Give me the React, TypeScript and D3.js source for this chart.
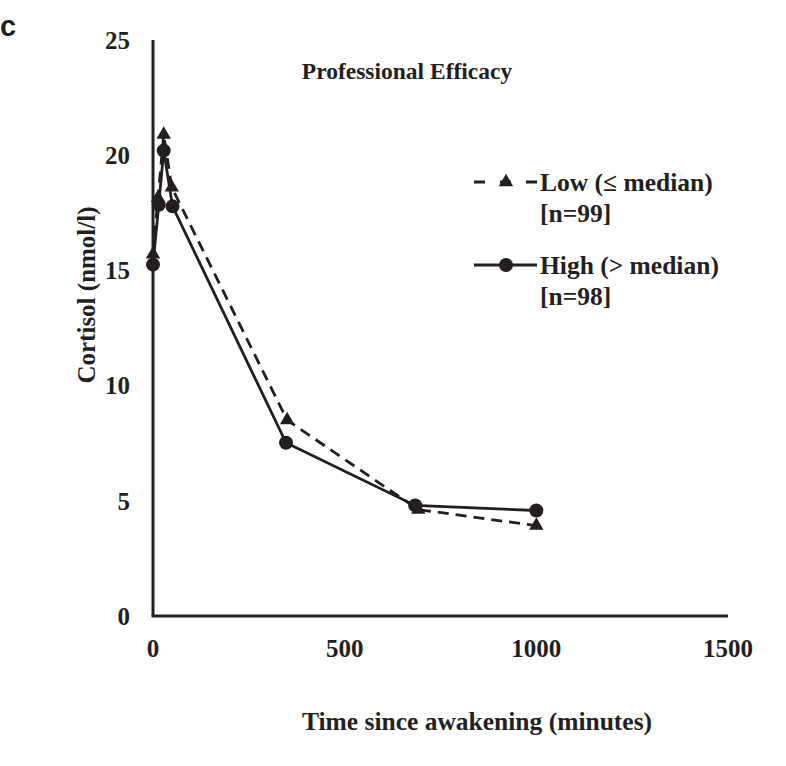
import React from "react";
import * as d3 from "d3";

const lowTimes = [0, 13, 28, 49, 350, 692, 1000];
const lowValues = [15.7, 18.15, 20.9, 18.6, 8.5, 4.62, 3.92];
const highTimes = [0, 15, 28, 51, 347, 684, 1000];
const highValues = [15.25, 17.85, 20.2, 17.78, 7.52, 4.8, 4.58];
const xTicks = [0, 500, 1000, 1500];
const yTicks = [0, 5, 10, 15, 20, 25];
const title = "Professional Efficacy";
const xLabel = "Time since awakening (minutes)";
const yLabel = "Cortisol (nmol/l)";
const legendItems = [
  { label: "Low (≤ median)", n: "[n=99]", dashed: true },
  { label: "High (> median)", n: "[n=98]", dashed: false },
];

const W = 786;
const H = 766;
const serif = "'Liberation Serif', 'Times New Roman', serif";
const color = "#231f20";

export default function App() {
  const x = d3.scaleLinear().domain([0, 1500]).range([153, 728]);
  const y = d3.scaleLinear().domain([0, 25]).range([616, 40]);
  const lineGen = d3
    .line<[number, number]>()
    .x((d) => x(d[0]))
    .y((d) => y(d[1]));
  const low: [number, number][] = lowTimes.map((t, i) => [t, lowValues[i]]);
  const high: [number, number][] = highTimes.map((t, i) => [t, highValues[i]]);
  const tri = d3.symbol().type(d3.symbolTriangle).size(90)()!;
  const legendY = [182, 265];

  return (
    <svg
      width={W}
      height={H}
      style={{ position: "absolute", left: 0, top: 0, background: "#fff" }}
    >
      <text
        x={0}
        y={36}
        fontFamily="'Liberation Sans', Arial, sans-serif"
        fontWeight="bold"
        fontSize={29}
        fill={color}
      >
        c
      </text>
      {/* axes */}
      <line x1={x(0)} x2={x(0)} y1={y(25)} y2={y(0)} stroke={color} strokeWidth={3} />
      <line x1={x(0) - 1.5} x2={x(1500)} y1={y(0)} y2={y(0)} stroke={color} strokeWidth={3} />
      {yTicks.map((t) => (
        <text
          key={"y" + t}
          x={130}
          y={y(t)}
          dy="0.35em"
          textAnchor="end"
          fontFamily={serif}
          fontWeight="bold"
          fontSize={25}
          fill={color}
        >
          {t}
        </text>
      ))}
      {xTicks.map((t) => (
        <text
          key={"x" + t}
          x={x(t)}
          y={648}
          dy="0.35em"
          textAnchor="middle"
          fontFamily={serif}
          fontWeight="bold"
          fontSize={25}
          fill={color}
        >
          {t}
        </text>
      ))}
      <text
        x={477}
        y={721}
        dy="0.35em"
        textAnchor="middle"
        fontFamily={serif}
        fontWeight="bold"
        fontSize={25.5}
        fill={color}
      >
        {xLabel}
      </text>
      <text
        transform={`translate(86,295) rotate(-90)`}
        dy="0.35em"
        textAnchor="middle"
        fontFamily={serif}
        fontWeight="bold"
        fontSize={25}
        fill={color}
      >
        {yLabel}
      </text>
      <text
        x={407}
        y={71}
        dy="0.35em"
        textAnchor="middle"
        fontFamily={serif}
        fontWeight="bold"
        fontSize={23.5}
        fill={color}
      >
        {title}
      </text>
      {/* series */}
      <path d={lineGen(low)!} fill="none" stroke={color} strokeWidth={2.8} strokeDasharray="11,7" />
      <path d={lineGen(high)!} fill="none" stroke={color} strokeWidth={2.8} />
      {low.map((d, i) => (
        <path key={"lt" + i} d={tri} transform={`translate(${x(d[0])},${y(d[1])})`} fill={color} />
      ))}
      {high.map((d, i) => (
        <circle key={"hc" + i} cx={x(d[0])} cy={y(d[1])} r={7} fill={color} />
      ))}
      {/* legend */}
      {legendItems.map((it, i) => (
        <g key={"lg" + i}>
          <line
            x1={474}
            x2={537}
            y1={legendY[i]}
            y2={legendY[i]}
            stroke={color}
            strokeWidth={2.8}
            strokeDasharray={it.dashed ? "11,15" : undefined}
          />
          {it.dashed ? (
            <path d={tri} transform={`translate(506,${legendY[i]})`} fill={color} />
          ) : (
            <circle cx={506} cy={legendY[i]} r={7} fill={color} />
          )}
          <text x={540} y={legendY[i]} dy="0.35em" fontFamily={serif} fontWeight="bold" fontSize={25.5} fill={color}>
            {it.label}
          </text>
          <text x={540} y={legendY[i] + 31} dy="0.35em" fontFamily={serif} fontWeight="bold" fontSize={25.5} fill={color}>
            {it.n}
          </text>
        </g>
      ))}
    </svg>
  );
}
